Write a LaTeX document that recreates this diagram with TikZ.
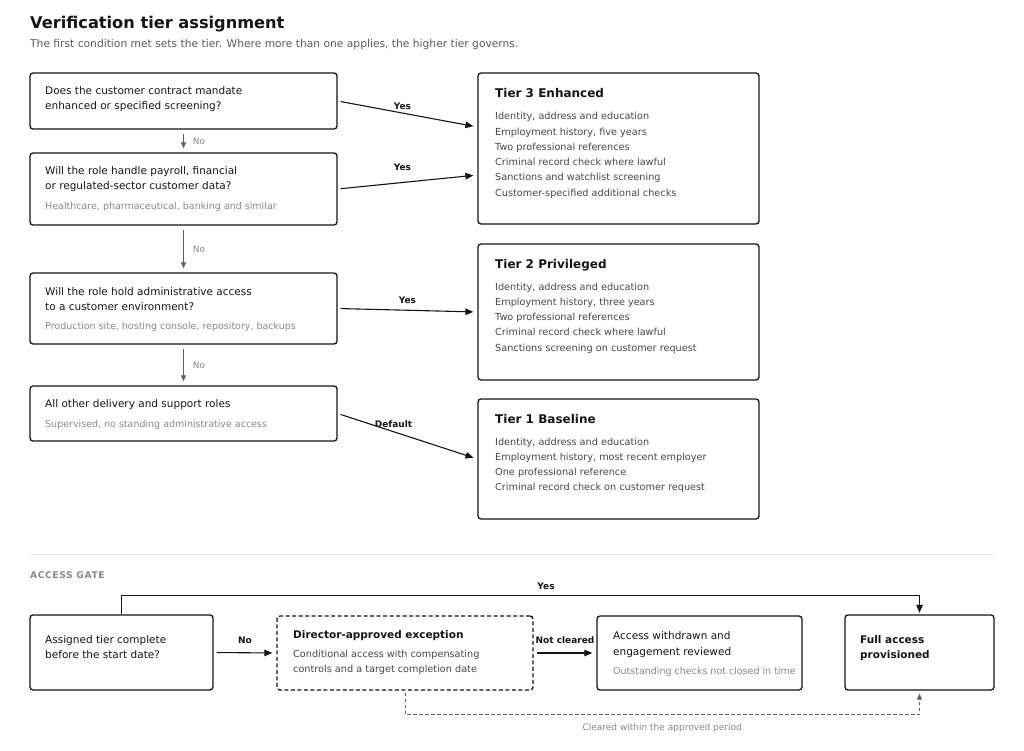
\documentclass[tikz,border=0pt]{standalone}
\usepackage{fontspec}
\setmainfont{DejaVu Sans}
\usetikzlibrary{arrows.meta, positioning, calc}
\definecolor{inkcolor}{RGB}{20,20,20}
\definecolor{bodygray}{RGB}{70,70,70}
\definecolor{subgray}{RGB}{90,90,90}
\definecolor{notegray}{RGB}{135,135,135}
\definecolor{rulegray}{RGB}{228,228,228}
\definecolor{linkgray}{RGB}{95,95,95}

\begin{document}
\begin{tikzpicture}[
    x=1pt, y=-1pt,
    box/.style={draw=inkcolor, line width=1.3pt, rounded corners=3pt, inner sep=0pt},
    gatebox/.style={box, dash pattern=on 4pt off 2.5pt},
    txt/.style={anchor=base west, inner sep=0pt, font=\fontsize{10.5}{12}\selectfont, text=inkcolor},
    note/.style={txt, font=\fontsize{9.5}{11}\selectfont, text=notegray},
    item/.style={txt, font=\fontsize{9.7}{11}\selectfont, text=bodygray},
    head/.style={txt, font=\fontsize{12}{14}\selectfont\bfseries},
    tag/.style={font=\fontsize{9}{10}\selectfont\bfseries, inner sep=1pt, text=inkcolor},
    notag/.style={font=\fontsize{9}{10}\selectfont, inner sep=1pt, text=notegray},
    flow/.style={-{Triangle[length=8pt, width=6.5pt]}, line width=1.1pt, draw=inkcolor, shorten <=3pt, shorten >=4pt},
    down/.style={-{Triangle[length=6pt, width=5pt]}, line width=0.9pt, draw=linkgray, shorten <=4pt, shorten >=4pt}
]
    \useasboundingbox (0,0) rectangle (1024,751);

    % Heading
    \node[txt, font=\fontsize{16.2}{18}\selectfont\bfseries] (title) at (30,29) {Verification tier assignment};
    \node[txt, font=\fontsize{10.7}{12}\selectfont, text=subgray] (subtitle) at (30,48) {The first condition met sets the tier. Where more than one applies, the higher tier governs.};

    % Questions
    \node[box, minimum width=307pt, minimum height=56pt] (q1) at (183.5,101) {};
    \node[txt] (q1a) at (45,95) {Does the customer contract mandate};
    \node[txt] (q1b) at (45,110) {enhanced or specified screening?};

    \node[box, minimum width=307pt, minimum height=72pt] (q2) at (183.5,189) {};
    \node[txt] (q2a) at (45,175) {Will the role handle payroll, financial};
    \node[txt] (q2b) at (45,190) {or regulated-sector customer data?};
    \node[note] (q2n) at (45,210) {Healthcare, pharmaceutical, banking and similar};

    \node[box, minimum width=307pt, minimum height=71pt] (q3) at (183.5,308.5) {};
    \node[txt] (q3a) at (45,295) {Will the role hold administrative access};
    \node[txt] (q3b) at (45,310) {to a customer environment?};
    \node[note] (q3n) at (45,329) {Production site, hosting console, repository, backups};

    \node[box, minimum width=307pt, minimum height=55pt] (q4) at (183.5,413.5) {};
    \node[txt] (q4a) at (45,407) {All other delivery and support roles};
    \node[note] (q4n) at (45,427) {Supervised, no standing administrative access};

    % Tiers
    \node[box, minimum width=281pt, minimum height=151pt] (t3) at (618.5,148.5) {};
    \node[head] (t3h) at (495,97.5) {Tier 3 Enhanced};
    \foreach \t [count=\i] in {{Identity, address and education}, {Employment history, five years}, {Two professional references}, {Criminal record check where lawful}, {Sanctions and watchlist screening}, {Customer-specified additional checks}}
        \node[item] (t3i\i) at (495,{120+15.25*(\i-1)}) {\t};

    \node[box, minimum width=281pt, minimum height=136pt] (t2) at (618.5,312) {};
    \node[head] (t2h) at (495,268) {Tier 2 Privileged};
    \foreach \t [count=\i] in {{Identity, address and education}, {Employment history, three years}, {Two professional references}, {Criminal record check where lawful}, {Sanctions screening on customer request}}
        \node[item] (t2i\i) at (495,{290+15.25*(\i-1)}) {\t};

    \node[box, minimum width=281pt, minimum height=120pt] (t1) at (618.5,459) {};
    \node[head] (t1h) at (495,423) {Tier 1 Baseline};
    \foreach \t [count=\i] in {{Identity, address and education}, {Employment history, most recent employer}, {One professional reference}, {Criminal record check on customer request}}
        \node[item] (t1i\i) at (495,{445+15.25*(\i-1)}) {\t};

    % Decision links
    \draw[down] (q1) -- node[notag, right, xshift=8pt] (no1) {No} (q2);
    \draw[down] (q2) -- node[notag, right, xshift=8pt] (no2) {No} (q3);
    \draw[down] (q3) -- node[notag, right, xshift=8pt] (no3) {No} (q4);

    \draw[flow] (q1.east) -- node[tag, above, yshift=3pt, xshift=-5pt] (yes1) {Yes} ([yshift=21.5pt]t3.west);
    \draw[flow] (q2.east) -- node[tag, above, yshift=10pt, xshift=-5pt] (yes2) {Yes} ([yshift=-26.5pt]t3.west);
    \draw[flow] (q3.east) -- node[tag, above, yshift=5pt] (yes3) {Yes} (t2.west);
    \draw[flow] (q4.east) -- node[tag, above, pos=0.4, yshift=3pt] (dflt) {Default} (t1.west);

    % Access gate
    \draw[rulegray, line width=0.8pt] (30,554) -- (994,554);
    \node[txt, font=\fontsize{9.2}{10}\selectfont\bfseries\addfontfeature{LetterSpace=6}, text=notegray] (gate) at (30,578.5) {ACCESS GATE};

    \node[box, minimum width=183pt, minimum height=75pt] (ready) at (121.5,652.5) {};
    \node[txt] (readya) at (45,643) {Assigned tier complete};
    \node[txt] (readyb) at (45,658) {before the start date?};

    \node[gatebox, minimum width=256pt, minimum height=74pt] (excp) at (405,653) {};
    \node[txt, font=\fontsize{10.5}{12}\selectfont\bfseries] (excph) at (293,638) {Director-approved exception};
    \node[item] (excpa) at (293,657) {Conditional access with compensating};
    \node[item] (excpb) at (293,672) {controls and a target completion date};

    \node[box, minimum width=205pt, minimum height=74pt] (wdrw) at (699.5,653) {};
    \node[txt] (wdrwa) at (613,639) {Access withdrawn and};
    \node[txt] (wdrwb) at (613,655) {engagement reviewed};
    \node[note] (wdrwn) at (613,674) {Outstanding checks not closed in time};

    \node[box, minimum width=149pt, minimum height=75pt] (full) at (919.5,652.5) {};
    \node[txt, font=\fontsize{10.5}{12}\selectfont\bfseries] (fulla) at (860,643) {Full access};
    \node[txt, font=\fontsize{10.5}{12}\selectfont\bfseries] (fullb) at (860,658) {provisioned};

    \draw[flow] (ready.east) -- node[tag, above, yshift=8pt] (notok) {No} (excp.west);
    \draw[flow] (excp.east) -- node[tag, above, yshift=8pt] (fail) {Not cleared} (wdrw.west);
    \draw[flow, shorten <=0pt, shorten >=1.5pt] (ready.north) -- ++(0,-19) -| node[tag, above, pos=0.266, yshift=4pt] (ok) {Yes} (full.north);
    \draw[-{Triangle[length=6pt, width=5pt]}, line width=0.9pt, draw=linkgray, dash pattern=on 3.5pt off 2.5pt, shorten <=2pt, shorten >=3pt]
        (excp.south) -- ++(0,24) -| node[notag, below, pos=0.25, yshift=-8pt] (clrd) {Cleared within the approved period} (full.south);
\end{tikzpicture}
\end{document}
